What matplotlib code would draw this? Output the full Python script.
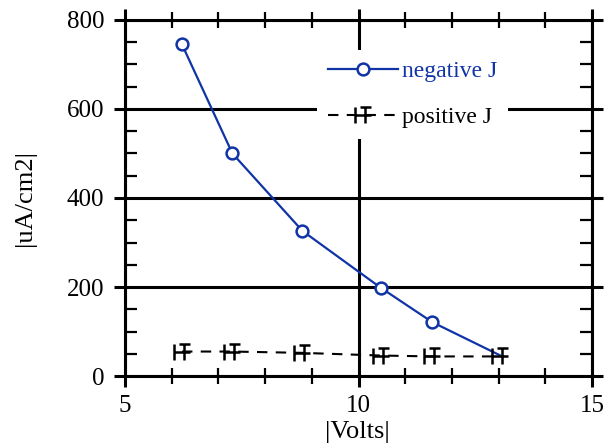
import numpy as np
import matplotlib
matplotlib.use("Agg")
import matplotlib.pyplot as plt
from matplotlib.path import Path
from matplotlib.ticker import MultipleLocator

# data
volts = [6.22, 7.3, 8.8, 10.48, 11.58, 13.02]
neg_j = [745, 500, 326, 198, 121, 47]
pos_j = [55, 55, 52, 46, 44, 44]
x_ticks = [5, 10, 15]
y_ticks = [0, 200, 400, 600, 800]

plt.rcParams['font.family'] = ['Liberation Serif', 'DejaVu Serif']

blue = '#1034a6'

# odd "square with bar" marker of the positive series
verts = [(-0.5, -0.5), (-0.5, 0.5),
         (0.15, -0.5), (0.15, 0.5),
         (-0.2, 0.5), (0.5, 0.5),
         (-0.5, 0.0), (0.5, 0.0)]
codes = [Path.MOVETO, Path.LINETO] * 4
sq_marker = Path(verts, codes)

fig = plt.figure(figsize=(6.15, 4.47), dpi=100)
ax = fig.add_axes([0.2033, 0.1588, 0.7593, 0.7965])

ax.plot(volts, neg_j, color=blue, lw=1.6, marker='o', ms=8.5, mfc='white',
        mec=blue, mew=1.8, markevery=list(range(len(volts) - 1)),
        label='negative J', zorder=3)
ax.plot(volts, pos_j, color='black', lw=1.5, ls=(0, (5, 4)), marker=sq_marker,
        ms=11, mfc='none', mec='black', mew=1.8, label='positive J', zorder=3)

ax.set_xlim(5, 15)
ax.set_ylim(0, 800)
ax.set_xticks(x_ticks)
ax.set_yticks(y_ticks)
ax.xaxis.set_minor_locator(MultipleLocator(1))
ax.yaxis.set_minor_locator(MultipleLocator(50))

ax.grid(which='major', color='black', lw=2.2, zorder=1)
ax.set_axisbelow(True)
for s in ax.spines.values():
    s.set_linewidth(2.2)

ax.tick_params(which='major', direction='out', length=8, width=2.2,
               top=True, right=True, labelsize=18, pad=6)
ax.tick_params(axis='y', which='major', pad=7)
ax.tick_params(axis='x', which='minor', direction='inout', length=11, width=1.6,
               top=True, bottom=True)
ax.tick_params(axis='y', which='minor', direction='in', length=8.5, width=1.6,
               left=True, right=True)

ax.set_xlabel('|Volts|', fontsize=19)
ax.set_ylabel('|uA/cm2|', fontsize=19)
ax.xaxis.set_label_coords(0.498, -0.125)
ax.yaxis.set_label_coords(-0.19, 0.5)

leg = ax.legend(loc='upper left', bbox_to_anchor=(0.411, 0.916), fontsize=17,
                frameon=True, facecolor='white', edgecolor='none', framealpha=1,
                fancybox=False, handlelength=3.0, handletextpad=0.15,
                labelspacing=1.05, borderpad=0.45, borderaxespad=0,
                labelcolor='linecolor')
leg.set_zorder(5)

fig.savefig('out.png', dpi=100)
